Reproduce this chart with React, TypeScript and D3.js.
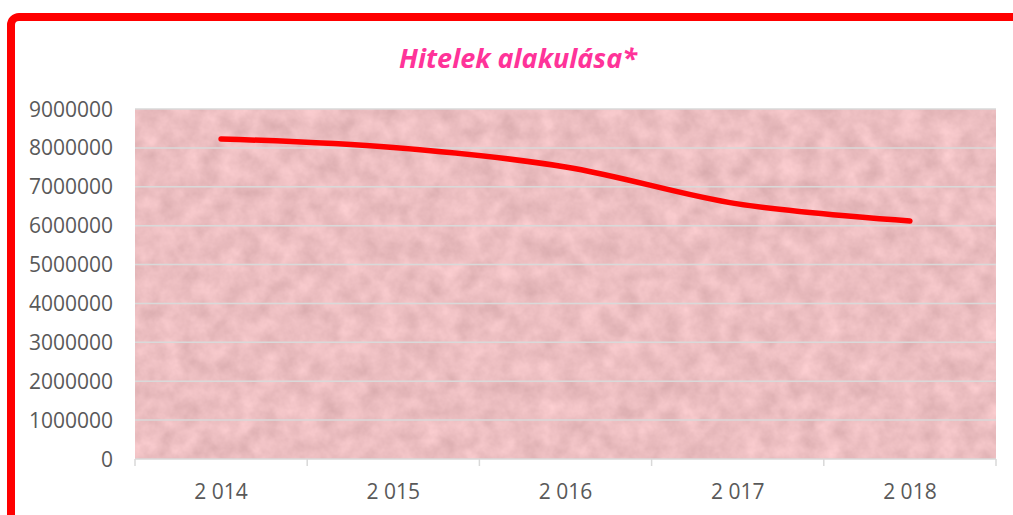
import React from 'react';
import * as d3 from 'd3';

const years = ['2 014', '2 015', '2 016', '2 017', '2 018'];
const loans = [8230000, 8010000, 7510000, 6560000, 6120000];
const yTicks = [0, 1000000, 2000000, 3000000, 4000000, 5000000, 6000000, 7000000, 8000000, 9000000];

const W = 1013;
const H = 515;
const margin = { top: 109, right: 17, bottom: 56, left: 135 };

const App = () => {
  const x = d3.scaleBand()
    .domain(years)
    .range([margin.left, W - margin.right]);

  const y = d3.scaleLinear()
    .domain([0, 9000000])
    .range([H - margin.bottom, margin.top]);

  const line = d3.line<number>()
    .x((_, i) => (x(years[i]) as number) + x.bandwidth() / 2)
    .y(d => y(d))
    .curve(d3.curveCatmullRom.alpha(0.5));

  const boundaries = years.map(c => x(c) as number).concat([x.range()[1]]);
  const font = "'Open Sans', 'DejaVu Sans', sans-serif";

  return (
    <svg width={W} height={H} style={{ position: 'absolute', left: 0, top: 0, display: 'block' }}>
      <defs>
        <filter id="paper" x="0" y="0" width="100%" height="100%" colorInterpolationFilters="sRGB">
          <feTurbulence type="fractalNoise" baseFrequency="0.05" numOctaves="4" seed="7" />
          <feColorMatrix
            type="matrix"
            values="0.16 0 0 0 0.845  0.16 0 0 0 0.665  0.16 0 0 0 0.675  0 0 0 0 1"
          />
        </filter>
      </defs>

      <rect width={W} height={H} fill="#ffffff" />

      {/* plot background */}
      <rect
        x={margin.left}
        y={margin.top}
        width={W - margin.left - margin.right}
        height={H - margin.top - margin.bottom}
        fill="#edc0c1"
        filter="url(#paper)"
      />

      {/* gridlines */}
      {yTicks.map(t => (
        <line
          key={t}
          x1={margin.left}
          x2={W - margin.right}
          y1={y(t)}
          y2={y(t)}
          stroke="#d9d9d9"
          strokeWidth={1.5}
        />
      ))}

      {/* x tick marks */}
      {boundaries.map((b, i) => (
        <line key={i} x1={b} x2={b} y1={y(0)} y2={y(0) + 7} stroke="#d9d9d9" strokeWidth={1.5} />
      ))}

      {/* y labels */}
      {yTicks.map(t => (
        <text
          key={t}
          x={margin.left - 22}
          y={y(t)}
          dy="0.36em"
          textAnchor="end"
          fontFamily={font}
          fontSize={21}
          fill="#595959"
        >
          {t}
        </text>
      ))}

      {/* x labels */}
      {years.map(c => (
        <text
          key={c}
          x={(x(c) as number) + x.bandwidth() / 2}
          y={499}
          textAnchor="middle"
          fontFamily={font}
          fontSize={21}
          fill="#595959"
        >
          {c}
        </text>
      ))}

      {/* series */}
      <path d={line(loans) || ''} fill="none" stroke="#ff0000" strokeWidth={5.5} strokeLinecap="round" strokeLinejoin="round" />

      {/* title */}
      <text
        x={518}
        y={68}
        textAnchor="middle"
        fontFamily={font}
        fontSize={27}
        fontWeight="bold"
        fontStyle="italic"
        fill="#ff3399"
      >
        Hitelek alakulása*
      </text>

      {/* outer frame */}
      <rect x={11} y={17} width={W + 40} height={H + 40} rx={8} fill="none" stroke="#ff0000" strokeWidth={8} />
    </svg>
  );
};

export default App;
